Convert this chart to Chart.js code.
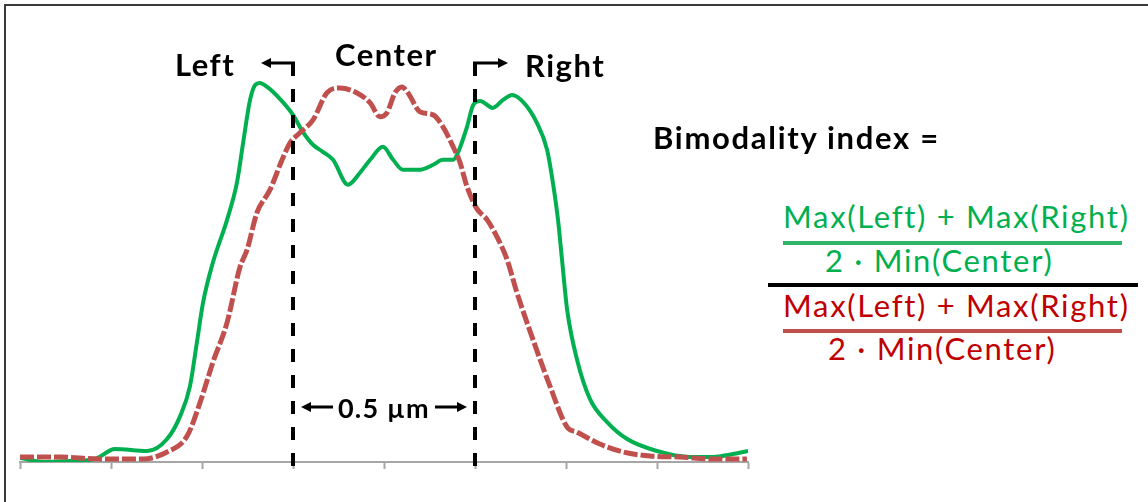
<!DOCTYPE html>
<html>
<head>
<meta charset="utf-8">
<script src="https://cdn.jsdelivr.net/npm/chart.js"></script>
<style>
  body { margin: 0; background: #fff; }
  #wrap { position: relative; width: 1148px; height: 502px; overflow: hidden; font-family: Lato, sans-serif; }
  #frame { position: absolute; left: 4px; top: 4px; width: 1200px; height: 600px; border: 2px solid #3a3a3a; }
  #chart { position: absolute; left: 0; top: 0; }
  .lbl { position: absolute; white-space: nowrap; line-height: 1; }
  .b { font-weight: bold; font-size: 31px; letter-spacing: 1.5px; color: #000; }
  .f { font-size: 31px; letter-spacing: 1.7px; }
  .g { color: #00b050; }
  .r { color: #c00000; }
  .bar { position: absolute; height: 4px; }
</style>
</head>
<body>
<div id="wrap">
  <div id="frame"></div>
  <canvas id="chart" width="760" height="480"></canvas>

  <div class="lbl b" style="left:175px; top:49px">Left</div>
  <div class="lbl b" style="left:335px; top:39px">Center</div>
  <div class="lbl b" style="left:525px; top:50px">Right</div>
  <div class="lbl b" style="left:338px; top:394px; font-size:27px; letter-spacing:1.2px">0.5 µm</div>

  <div class="lbl b" style="left:653px; top:122px; letter-spacing:1.7px">Bimodality index =</div>
  <div class="lbl f g" style="left:783px; top:201px">Max(Left) + Max(Right)</div>
  <div class="bar" style="left:783px; top:241px; width:339px; background:#2fb46a"></div>
  <div class="lbl f g" style="left:825px; top:245px">2 · Min(Center)</div>
  <div class="bar" style="left:768px; top:283px; width:370px; background:#000"></div>
  <div class="lbl f r" style="left:783px; top:290px">Max(Left) + Max(Right)</div>
  <div class="bar" style="left:783px; top:329px; width:339px; background:#c0504d"></div>
  <div class="lbl f r" style="left:828px; top:333px">2 · Min(Center)</div>
</div>

<script>
// line scan position (µm) and intensity (a.u.)
const greenX = [0, 0.069, 0.137, 0.206, 0.261, 0.349, 0.404, 0.440, 0.467, 0.486, 0.503, 0.530, 0.569, 0.596, 0.613,
                0.632, 0.646, 0.659, 0.679, 0.714, 0.750, 0.777, 0.805, 0.832, 0.860, 0.901, 0.934, 0.962, 0.997,
                1.025, 1.052, 1.099, 1.135, 1.162, 1.190, 1.203, 1.228, 1.245, 1.264, 1.299, 1.327, 1.352, 1.382,
                1.420, 1.448, 1.464, 1.478, 1.489, 1.503, 1.530, 1.566, 1.613, 1.668, 1.750, 1.841, 1.904, 1.959, 2.000];
const greenY = [1.0, 0, 0.25, 0.75, 3.25, 2.75, 5.75, 11.5, 19, 30, 40, 50, 60.75, 70, 80,
                90.75, 94.5, 95, 94, 91, 87, 82.75, 79.5, 77.75, 75.75, 69.5, 72.5, 75.75, 79,
                75.75, 73.25, 73.25, 74.5, 75.75, 75.75, 77.5, 84, 89.5, 90.5, 88.75, 90.75, 92, 90.25,
                85, 78.25, 70, 60.75, 50.75, 38.25, 25.75, 15.75, 10, 5.75, 2.75, 1.25, 1.25, 2, 2.75];

const redX = [0, 0.110, 0.220, 0.338, 0.404, 0.459, 0.495, 0.530, 0.569, 0.604, 0.624, 0.651, 0.687, 0.720, 0.742,
              0.769, 0.805, 0.843, 0.879, 0.926, 0.962, 0.989, 1.008, 1.030, 1.049, 1.066, 1.099, 1.135, 1.162,
              1.190, 1.209, 1.228, 1.255, 1.283, 1.310, 1.338, 1.365, 1.409, 1.456, 1.503, 1.530, 1.593, 1.657,
              1.731, 1.813, 1.904, 1.997];
const redY = [1.25, 1.25, 0.75, 0.75, 2.5, 6.5, 15, 25, 35, 48.75, 53.25, 62.5, 68.25, 75.75, 80,
              82.5, 85.75, 92.5, 93.75, 92.5, 90, 86.5, 87.5, 92.5, 94, 92.5, 87.75, 87, 84,
              79, 75, 69, 63.5, 60.75, 56.5, 50.75, 42.5, 30.75, 19, 8.75, 7.5, 4.5, 2.5,
              1.5, 1.25, 0.75, 0.75];

const tickValues = [0, 0.25, 0.5, 0.75, 1, 1.25, 1.5, 1.75, 2];
const centerBounds = [0.75, 1.25];   // 0.5 µm window

function toPoints(xs, ys) {
    return xs.map((x, i) => ({x: x, y: ys[i]}));
}

function arrow(ctx, x1, y1, x2, y2) {
    const dir = Math.sign(x2 - x1);
    ctx.lineWidth = 3;
    ctx.beginPath();
    ctx.moveTo(x1, y1);
    ctx.lineTo(x2 - dir * 6, y2);
    ctx.stroke();
    ctx.beginPath();
    ctx.moveTo(x2, y2);
    ctx.lineTo(x2 - dir * 10, y2 - 5);
    ctx.lineTo(x2 - dir * 10, y2 + 5);
    ctx.closePath();
    ctx.fill();
}

// dashed window borders + arrows
const boundsPlugin = {
    id: 'bounds',
    afterDatasetsDraw(chart) {
        const {ctx, chartArea, scales} = chart;
        const xl = scales.x.getPixelForValue(centerBounds[0]);
        const xr = scales.x.getPixelForValue(centerBounds[1]);
        const top = chartArea.top;
        const bottom = chartArea.bottom + 7;
        ctx.save();
        ctx.strokeStyle = '#000';
        ctx.fillStyle = '#000';
        ctx.lineWidth = 4;
        ctx.setLineDash([13, 13]);
        [xl, xr].forEach(px => {
            ctx.beginPath();
            ctx.moveTo(px, top);
            ctx.lineTo(px, bottom);
            ctx.stroke();
        });
        ctx.setLineDash([]);
        arrow(ctx, xl + 2, top, xl - 32, top);
        arrow(ctx, xr - 2, top, xr + 33, top);
        const ya = chartArea.bottom - 55;
        arrow(ctx, xl + 40, ya, xl + 8, ya);
        arrow(ctx, xr - 40, ya, xr - 8, ya);
        ctx.restore();
    }
};

new Chart(document.getElementById('chart'), {
    type: 'line',
    data: {
        datasets: [
            {
                data: toPoints(redX, redY),
                borderColor: '#c0504d',
                borderWidth: 5,
                borderDash: [14, 3],
                cubicInterpolationMode: 'monotone',
                pointRadius: 0
            },
            {
                data: toPoints(greenX, greenY),
                borderColor: '#00b050',
                borderWidth: 4,
                cubicInterpolationMode: 'monotone',
                pointRadius: 0
            }
        ]
    },
    options: {
        responsive: false,
        animation: false,
        layout: {
            padding: {left: 20, right: 12, top: 63, bottom: 11}
        },
        plugins: {
            legend: {display: false},
            tooltip: {enabled: false}
        },
        scales: {
            x: {
                type: 'linear',
                min: 0,
                max: 2,
                afterBuildTicks: s => { s.ticks = tickValues.map(v => ({value: v})); },
                ticks: {display: false},
                grid: {
                    drawOnChartArea: false,
                    drawTicks: true,
                    tickLength: 7,
                    tickWidth: 2,
                    color: '#a6a6a6'
                },
                border: {color: '#a6a6a6', width: 2}
            },
            y: {
                display: false,
                min: 0,
                max: 100
            }
        }
    },
    plugins: [boundsPlugin]
});
</script>
</body>
</html>
